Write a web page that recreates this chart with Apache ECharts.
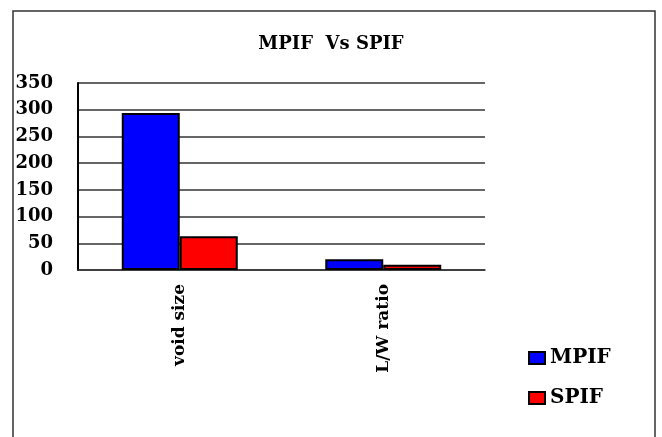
<!DOCTYPE html>
<html>
<head>
<meta charset="utf-8">
<script src="https://cdn.jsdelivr.net/npm/echarts@6/dist/echarts.min.js"></script>
<style>
html,body{margin:0;padding:0;background:#fff;}
#chart{width:662px;height:437px;}
</style>
</head>
<body>
<div id="chart"></div>
<script>
const categories = ['void size', 'L/W ratio'];
const mpifValues = [294, 20];
const spifValues = [63, 10];
const seriesNames = ['MPIF', 'SPIF'];
const titleText = 'MPIF  Vs SPIF';

const FONT = '"DejaVu Serif", "Liberation Serif", serif';
const chart = echarts.init(document.getElementById('chart'), null, {renderer: 'canvas'});
chart.setOption({
  backgroundColor: '#fff',
  animation: false,
  title: {
    text: titleText,
    left: 'center',
    top: 30,
    textStyle: {fontFamily: FONT, fontWeight: 'bold', fontSize: 18, color: '#000'}
  },
  legend: {
    orient: 'vertical',
    left: 523,
    top: 343,
    itemWidth: 16,
    itemHeight: 12,
    itemGap: 20,
    icon: 'rect',
    textStyle: {fontFamily: FONT, fontWeight: 'bold', fontSize: 20, color: '#000', lineHeight: 20},
    data: seriesNames
  },
  grid: {left: 78, right: 177, top: 83, bottom: 167, containLabel: false},
  xAxis: {
    type: 'category',
    data: categories,
    axisLine: {show: true, lineStyle: {color: '#333', width: 1.5}},
    axisTick: {show: false},
    axisLabel: {
      rotate: 90,
      margin: 14,
      fontFamily: FONT, fontWeight: 'bold', fontSize: 17, color: '#000'
    }
  },
  yAxis: {
    type: 'value',
    min: 0, max: 350, interval: 50,
    axisLine: {show: true, lineStyle: {color: '#000', width: 2}},
    axisTick: {show: false},
    axisLabel: {margin: 25, fontFamily: FONT, fontWeight: 'bold', fontSize: 18, color: '#000'},
    splitLine: {show: true, lineStyle: {color: '#333', width: 1.5}}
  },
  series: [
    {
      name: seriesNames[0], type: 'bar', data: mpifValues,
      barWidth: 58, barGap: '0%',
      itemStyle: {color: '#0000ff', borderColor: '#000', borderWidth: 2}
    },
    {
      name: seriesNames[1], type: 'bar', data: spifValues,
      barWidth: 58, barGap: '0%',
      itemStyle: {color: '#ff0000', borderColor: '#000', borderWidth: 2}
    }
  ],
  graphic: [
    {
      type: 'rect',
      shape: {x: 13, y: 11, width: 642, height: 440},
      style: {fill: null, stroke: '#333', lineWidth: 1.5},
      silent: true,
      z: 100
    }
  ]
});
</script>
</body>
</html>
